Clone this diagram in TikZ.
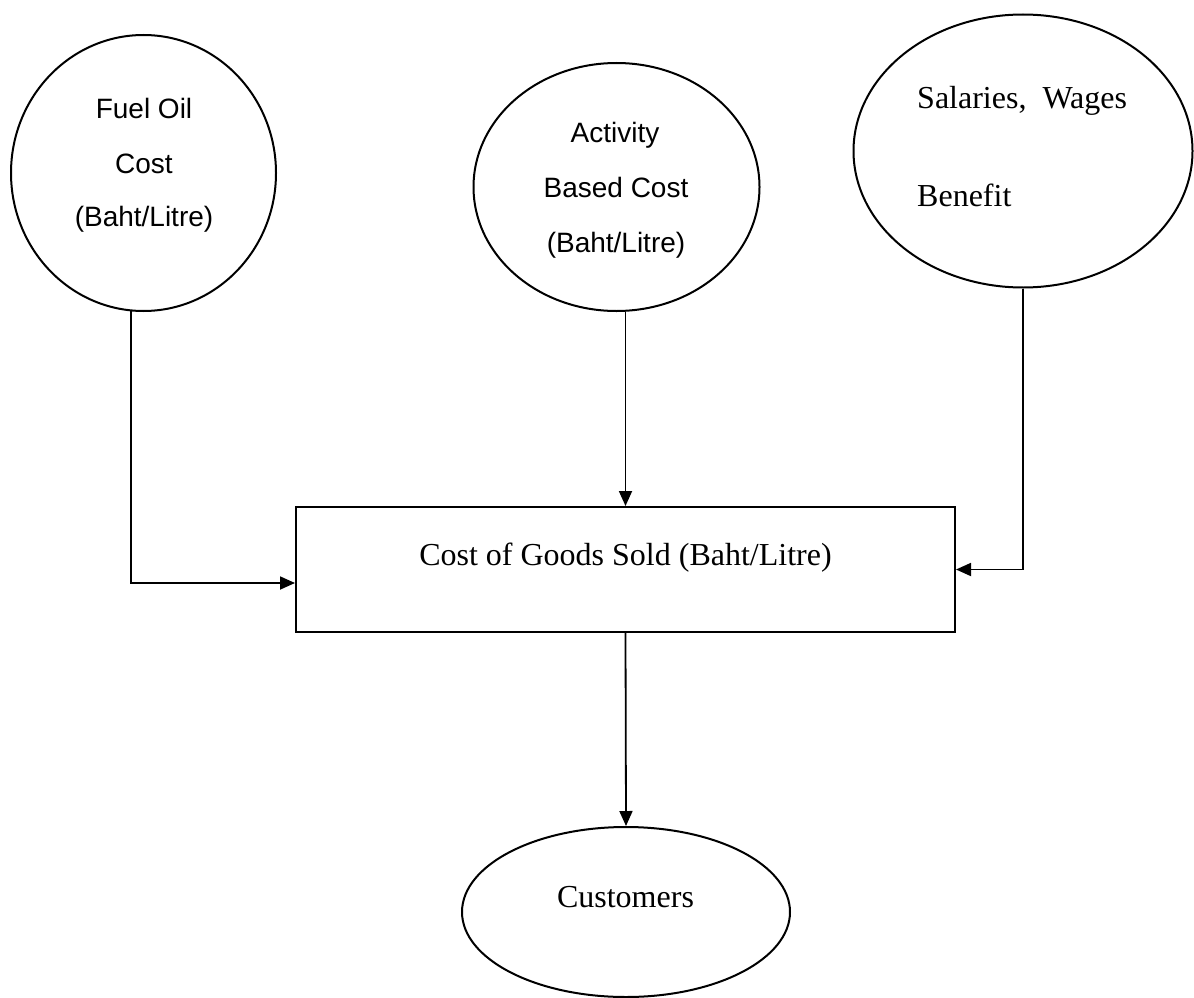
\documentclass[tikz,border=0pt]{standalone}
\usepackage{fontspec}
\setmainfont{Liberation Serif}
\newfontfamily\arialf{Liberation Sans}
\usetikzlibrary{shapes.geometric,arrows.meta}
\begin{document}
\begin{tikzpicture}[x=1pt,y=-1pt,
  oval/.style={draw=black, line width=2pt, ellipse, inner sep=0pt},
  box/.style={draw=black, line width=2pt, rectangle, inner sep=0pt},
  conn/.style={draw=black, line width=1.8pt, -{Triangle[length=15pt,width=13pt]}},
  sanslbl/.style={anchor=base, inner sep=0pt, font=\arialf\fontsize{28}{34}\selectfont},
  seriflbl/.style={inner sep=0pt, font=\fontsize{32}{38}\selectfont}]
\fill[white] (0,0) rectangle (1194,998);
\useasboundingbox (0,0) rectangle (1194,998);

% shapes
\node[oval, minimum width=265pt, minimum height=276pt] (fuel) at (143.5,173) {};
\node[oval, minimum width=286pt, minimum height=248pt] (abc) at (616.5,187) {};
\node[oval, minimum width=339pt, minimum height=273pt] (sal) at (1023,151) {};
\node[box, minimum width=659pt, minimum height=125pt] (cogs) at (625.5,569.5) {};
\node[oval, minimum width=328pt, minimum height=170pt] (cust) at (626,912) {};

% texts
\node[sanslbl] (f1) at (144,118) {Fuel Oil};
\node[sanslbl] (f2) at (144,173) {Cost};
\node[sanslbl] (f3) at (144,226) {(Baht/Litre)};

\node[sanslbl] (a1) at (615,142) {Activity};
\node[sanslbl] (a2) at (616,197) {Based Cost};
\node[sanslbl] (a3) at (616,252) {(Baht/Litre)};

\node[seriflbl, anchor=base west] (s1) at (917,108) {Salaries,~~Wages};
\node[seriflbl, anchor=base west] (s2) at (917,206) {Benefit};

\node[seriflbl, anchor=base] (c1) at (625.5,565) {Cost of Goods Sold (Baht/Litre)};
\node[seriflbl, anchor=base] (u1) at (625.5,907) {Customers};

% connectors
\coordinate (lin) at (0,583);
\draw[conn] (fuel.-95) |- (cogs.west |- lin);
\draw[conn] (cogs.north |- abc.south) -- (cogs.north);
\draw[conn] (sal.south) |- (cogs.east);
\draw[conn] (cogs.south) -- (cust.north);
\end{tikzpicture}
\end{document}
